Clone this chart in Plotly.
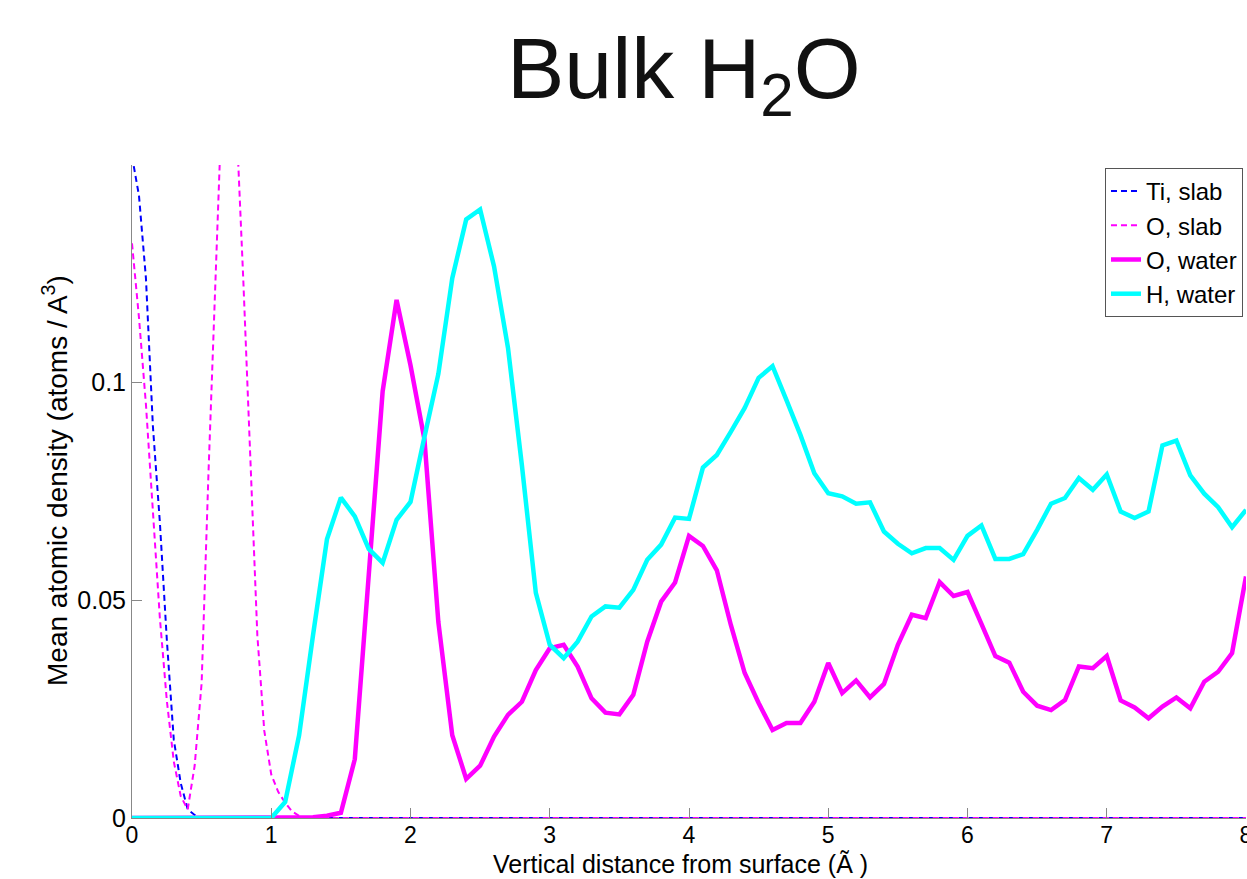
import numpy as np
import plotly.graph_objects as go

# ---------------- data ----------------
# water profiles sampled every 0.1 A from 0 to 8 A
x_water = np.round(np.arange(0, 81) * 0.1, 1)

o_water = [
    0, 0, 0, 0, 0, 0, 0, 0, 0, 0,
    0, 0, 0, 0.0002, 0.0005, 0.0012, 0.0135, 0.056, 0.098, 0.119,
    0.104, 0.087, 0.045, 0.019, 0.009, 0.012, 0.0187, 0.0237, 0.0267, 0.034,
    0.039, 0.0398, 0.0348, 0.0275, 0.0242, 0.0238, 0.0283, 0.0405, 0.0497, 0.0541,
    0.0648, 0.0625, 0.0569, 0.0444, 0.0333, 0.0264, 0.0202, 0.0218, 0.0218, 0.0267,
    0.0356, 0.0287, 0.0316, 0.0277, 0.0308, 0.0398, 0.0467, 0.0459, 0.0542, 0.051,
    0.0519, 0.0446, 0.0372, 0.0357, 0.029, 0.0258, 0.0248, 0.0271, 0.0348, 0.0344,
    0.0372, 0.027, 0.0254, 0.0229, 0.0256, 0.0277, 0.0252, 0.0313, 0.0336, 0.0379,
    0.0555,
]

h_water = [
    0, 0, 0, 0, 0, 0, 0, 0, 0, 0,
    0, 0.0037, 0.019, 0.042, 0.064, 0.0736, 0.0693, 0.0618, 0.0586, 0.0685,
    0.0726, 0.0875, 0.102, 0.124, 0.1375, 0.1398, 0.1267, 0.108, 0.081, 0.0517,
    0.0398, 0.0367, 0.0405, 0.0463, 0.0486, 0.0483, 0.0524, 0.0593, 0.0628, 0.069,
    0.0687, 0.0805, 0.0834, 0.0887, 0.0942, 0.1011, 0.1038, 0.096, 0.088, 0.0792,
    0.0746, 0.0739, 0.0722, 0.0725, 0.0658, 0.063, 0.0608, 0.062, 0.062, 0.0593,
    0.0648, 0.0672, 0.0595, 0.0595, 0.0606, 0.0662, 0.0722, 0.0735, 0.0781, 0.0754,
    0.0789, 0.0704, 0.0689, 0.0704, 0.0856, 0.0867, 0.0787, 0.0745, 0.0714, 0.0668,
    0.0708,
]

# slab profiles (finer sampling near the surface, zero beyond)
x_slab = [0.0, 0.05, 0.10, 0.15, 0.20, 0.25, 0.30, 0.35, 0.40, 0.45,
          0.50, 0.55, 0.60, 0.65, 0.70, 0.75, 0.80, 0.85, 0.90, 0.95,
          1.00, 1.05, 1.10, 1.15, 1.20, 1.25, 8.0]
ti_slab = [0.152, 0.143, 0.124, 0.090, 0.068, 0.041, 0.018, 0.008, 0.002, 0.0007,
           0, 0, 0, 0, 0, 0, 0, 0, 0, 0,
           0, 0, 0, 0, 0, 0, 0]
o_slab = [0.132, 0.115, 0.095, 0.070, 0.046, 0.027, 0.013, 0.005, 0.002, 0.012,
          0.031, 0.080, 0.127, 0.168, 0.190, 0.160, 0.123, 0.082, 0.042, 0.020,
          0.010, 0.006, 0.0035, 0.0015, 0.0005, 0, 0]

x_ticks = [0, 1, 2, 3, 4, 5, 6, 7, 8]
y_ticks = [0, 0.05, 0.1]
y_ticklabels = ["0", "0.05", "0.1"]

FONT = "Liberation Sans, Arial, sans-serif"

fig = go.Figure()
fig.add_trace(go.Scatter(x=x_slab, y=ti_slab, mode="lines", name="Ti, slab",
                         line=dict(color="#0000ff", width=2, dash="6px,4px")))
fig.add_trace(go.Scatter(x=x_slab, y=o_slab, mode="lines", name="O, slab",
                         line=dict(color="#ff00ff", width=2, dash="6px,4px")))
fig.add_trace(go.Scatter(x=x_water, y=o_water, mode="lines", name="O, water",
                         line=dict(color="#ff00ff", width=4.5)))
fig.add_trace(go.Scatter(x=x_water, y=h_water, mode="lines", name="H, water",
                         line=dict(color="#00ffff", width=4.5)))

fig.update_layout(
    width=1247, height=879,
    margin=dict(l=132, r=1, t=165, b=61),
    paper_bgcolor="white", plot_bgcolor="white",
    font=dict(family=FONT, size=25, color="black"),
    showlegend=True,
    legend=dict(x=0.9973, y=0.9954, xanchor="right", yanchor="top",
                bgcolor="white", bordercolor="#555555", borderwidth=1,
                font=dict(size=24), tracegroupgap=0, itemwidth=30),
    xaxis=dict(range=[0, 8], tickvals=x_ticks, ticks="inside", ticklen=10,
               tickcolor="#888888", showline=True, linecolor="#888888",
               showgrid=False, zeroline=False, automargin=False,
               ticklabeloverflow="allow", ticklabelstandoff=-4,
               tickfont=dict(size=23)),
    yaxis=dict(range=[0, 0.15], tickvals=y_ticks, ticktext=y_ticklabels,
               ticks="inside", ticklen=10, tickcolor="#888888", showline=True,
               linecolor="#888888", showgrid=False, zeroline=False,
               automargin=False, tickfont=dict(size=25)),
    annotations=[
        dict(text="Bulk H<sub>2</sub>O", xref="paper", yref="paper",
             x=(684 - 132) / 1114, y=(818 - 75) / 653, xanchor="center",
             yanchor="middle", showarrow=False,
             font=dict(size=86, color="#111111")),
        dict(text="Vertical distance from surface (Ã )", xref="paper", yref="paper",
             x=(680 - 132) / 1114, y=(818 - 864) / 653, xanchor="center",
             yanchor="middle", showarrow=False, font=dict(size=25)),
        dict(text="Mean atomic density (atoms / A<sup>3</sup>)", xref="paper",
             yref="paper", x=(55 - 132) / 1114, y=(818 - 481) / 653,
             xanchor="center", yanchor="middle", textangle=-90,
             showarrow=False, font=dict(size=28)),
    ],
)

fig.write_html("out.html")
